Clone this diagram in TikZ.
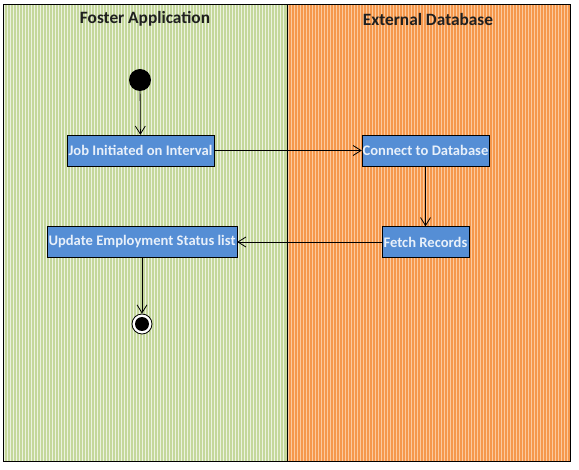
\documentclass[tikz,border=0pt]{standalone}
\usepackage{fontspec}
\setmainfont{Carlito}
\usetikzlibrary{arrows.meta,positioning}
\definecolor{lanegreen}{RGB}{196,215,155}
\definecolor{lanegreenlt}{RGB}{236,242,224}
\definecolor{laneorange}{RGB}{245,152,76}
\definecolor{laneorangelt}{RGB}{252,202,158}
\definecolor{actblue}{RGB}{85,142,213}
\definecolor{acttext}{RGB}{232,240,250}

\begin{document}
\begin{tikzpicture}[
  x=1pt, y=-1pt,
  >={Straight Barb[length=8pt,width=10pt]},
  action/.style={draw=black, fill=actblue, text=acttext, font=\bfseries\fontsize{14.6}{16}\selectfont, inner sep=0pt, minimum height=31pt},
  lanetitle/.style={font=\bfseries\fontsize{17.3}{19}\selectfont, text=black!88},
  flow/.style={->, black, line width=0.8pt}
]
\useasboundingbox (0,0) rectangle (579,470);

% Swimlanes
\fill[lanegreen] (3,5) rectangle (287,462);
\fill[laneorange] (287,5) rectangle (570,462);
\foreach \x in {4.5,7.5,...,286} \draw[lanegreenlt, line width=1pt] (\x,5) -- (\x,462);
\foreach \x in {288.5,291.5,...,569} \draw[laneorangelt, line width=1pt] (\x,5) -- (\x,462);
\draw[black, line width=1pt] (3,5) rectangle (570,462);
\draw[black, line width=0.8pt] (287,5) -- (287,462);

\node[lanetitle] (fostertitle) at (145,19) {Foster Application};
\node[lanetitle] (dbtitle) at (428,19) {External Database};

% Start and end
\node[circle, fill=black, minimum size=22pt, inner sep=0pt] (start) at (140,80) {};
\node[circle, draw=black, fill=white, line width=0.8pt, minimum size=20pt, inner sep=0pt,
  path picture={\fill[black] (path picture bounding box.center) circle (7pt);}] (end) at (142,324) {};

% Actions
\node[action, minimum width=147pt] (job) at (140.5,150.5) {Job Initiated on Interval};
\node[action, minimum width=127pt] (connect) at (425.5,150.5) {Connect to Database};
\node[action, minimum width=87pt] (fetch) at (425.5,242) {Fetch Records};
\node[action, minimum width=190pt] (update) at (142,242) {Update Employment Status list};

% Flow
\draw[flow] (start) -- (job);
\draw[flow] (job) -- (connect);
\draw[flow] (connect) -- (fetch);
\draw[flow] (fetch) -- (update);
\draw[flow] (update) -- (end);

\end{tikzpicture}
\end{document}
